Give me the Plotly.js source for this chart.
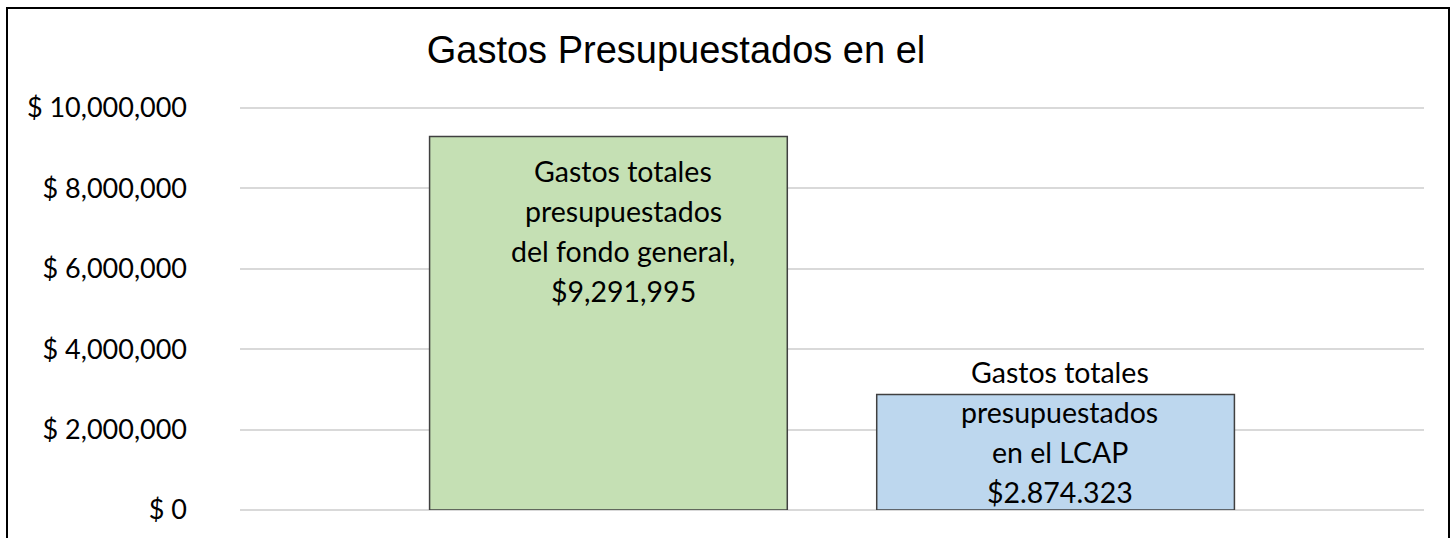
<!DOCTYPE html>
<html>
<head>
<meta charset="utf-8">
<script src="https://cdn.plot.ly/plotly-3.0.1.min.js"></script>
<style>
  html, body { margin: 0; padding: 0; background: #fff; }
  #wrap { position: relative; width: 1456px; height: 538px; overflow: hidden; }
  #chart { position: absolute; left: 0; top: 0; width: 1456px; height: 538px; }
  #frame { position: absolute; left: 6px; top: 7px; width: 1444px; height: 600px;
           border: 2.5px solid #000; pointer-events: none; box-sizing: border-box; }
</style>
</head>
<body>
<div id="wrap">
  <div id="chart"></div>
  <div id="frame"></div>
</div>
<script>
// ---- data ----
const categories = ["Fondo general", "LCAP"];
const values = [9291995, 2874323];
const barColors = ["#c5e0b4", "#bdd7ee"];
const labelLines = [
  ["Gastos totales", "presupuestados", "del fondo general,", "$9,291,995"],
  ["Gastos totales", "presupuestados", "en el LCAP", "$2.874.323"]
];
const titleText = "Gastos Presupuestados en el";
const yTickValues = [0, 2000000, 4000000, 6000000, 8000000, 10000000];
const yTickText = yTickValues.map(v => "$ " + v.toLocaleString("en-US"));

// ---- styles ----
const labelFont = { family: "Lato, 'Open Sans', sans-serif", size: 28.5, color: "#000" };
const firstLineShift = [-35, 22];
const lineStep = 40;
const labelXShift = [15, 4];

const trace = {
  type: "bar",
  x: categories,
  y: values,
  marker: { color: barColors, line: { color: "#404040", width: 1.5 } },
  hoverinfo: "skip"
};

const annotations = [];
categories.forEach((c, i) => {
  labelLines[i].forEach((t, j) => {
    annotations.push({
      x: c, y: values[i], xref: "x", yref: "y",
      text: t, showarrow: false,
      xanchor: "center", yanchor: "middle",
      xshift: labelXShift[i],
      yshift: firstLineShift[i] - j * lineStep,
      font: labelFont
    });
  });
});

const layout = {
  width: 1456, height: 538,
  margin: { l: 240, r: 32, t: 106, b: 28, pad: 0 },
  paper_bgcolor: "#fff", plot_bgcolor: "#fff",
  showlegend: false,
  bargap: 0.2,
  title: {
    text: titleText,
    font: { family: "'Liberation Sans', Arial, sans-serif", size: 38, color: "#000" },
    x: 676 / 1456, xref: "container", xanchor: "center",
    y: 1 - 50 / 538, yref: "container", yanchor: "middle"
  },
  xaxis: {
    type: "category",
    range: [-0.824, 1.824],
    showticklabels: false, showgrid: false, zeroline: false, showline: false, ticks: ""
  },
  yaxis: {
    range: [0, 10050000],
    tickmode: "array",
    tickvals: yTickValues,
    ticktext: yTickText,
    tickfont: { family: "Lato, 'Open Sans', sans-serif", size: 27, color: "#000" },
    ticklabelstandoff: 52,
    showgrid: true, gridcolor: "#d9d9d9", gridwidth: 2,
    zeroline: true, zerolinecolor: "#d9d9d9", zerolinewidth: 2,
    showline: false, ticks: ""
  },
  annotations: annotations
};

Plotly.newPlot("chart", [trace], layout, { displayModeBar: false, staticPlot: true });
</script>
</body>
</html>
